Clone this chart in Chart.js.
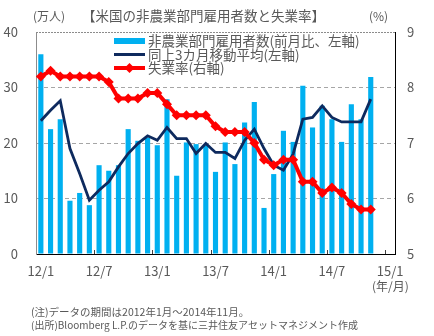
<!DOCTYPE html>
<html>
<head>
<meta charset="utf-8">
<script src="https://cdn.jsdelivr.net/npm/chart.js@4/dist/chart.umd.min.js"></script>
<style>
  html, body { margin: 0; padding: 0; background: #ffffff; }
  #wrap { width: 434px; height: 336px; }
</style>
</head>
<body>
<div id="wrap"><canvas id="c" width="434" height="336"></canvas></div>
<script>
// Monthly categories, 2012/1 .. 2015/1
const months = [
  '12/1','12/2','12/3','12/4','12/5','12/6','12/7','12/8','12/9','12/10','12/11','12/12',
  '13/1','13/2','13/3','13/4','13/5','13/6','13/7','13/8','13/9','13/10','13/11','13/12',
  '14/1','14/2','14/3','14/4','14/5','14/6','14/7','14/8','14/9','14/10','14/11','14/12',
  '15/1'
];

// Non-farm payrolls, change from previous month (10k persons)
const payrolls = [
  36.0, 22.5, 24.3, 9.6, 11.0, 8.8, 16.0, 15.0, 16.0, 22.5, 20.4, 21.0,
  19.6, 27.9, 14.1, 20.1, 19.8, 19.6, 14.8, 20.1, 16.2, 23.7, 27.4, 8.3,
  14.4, 22.2, 20.2, 30.3, 22.8, 26.7, 24.3, 20.2, 27.0, 24.3, 31.9
];

// 3-month moving average of payrolls (10k persons)
const payrollsAvg3 = [
  24.0, 25.9, 27.6, 19.0, 14.5, 9.7, 11.5, 13.0, 15.7, 18.1, 19.9, 21.3,
  20.5, 22.8, 20.8, 20.8, 18.1, 19.9, 18.3, 18.3, 17.2, 20.5, 22.5, 19.0,
  16.0, 15.1, 18.0, 24.3, 24.6, 26.7, 24.6, 23.8, 23.8, 23.8, 27.9
];

// Unemployment rate (%)
const unemployment = [
  8.2, 8.3, 8.2, 8.2, 8.2, 8.2, 8.2, 8.1, 7.8, 7.8, 7.8, 7.9,
  7.9, 7.7, 7.5, 7.5, 7.5, 7.5, 7.3, 7.2, 7.2, 7.2, 7.0, 6.7,
  6.6, 6.7, 6.7, 6.3, 6.3, 6.1, 6.2, 6.1, 5.9, 5.8, 5.8
];

const leftTicks = [0, 10, 20, 30, 40];
const rightTicks = [5, 6, 7, 8, 9];

const seriesNames = [
  '非農業部門雇用者数(前月比、左軸)',
  '同上3カ月移動平均(左軸)',
  '失業率(右軸)'
];

const TEXT = '#595959';
const FONT = '"Noto Sans CJK JP", "Noto Sans", sans-serif';
const BLUE = '#00B0F0';
const NAVY = '#0E2A5E';
const RED = '#FF0000';

// Page texts: headline, unit labels, legend and notes
const decorations = {
  id: 'decorations',
  beforeDraw(chart) {
    const ctx = chart.ctx;
    ctx.save();
    ctx.fillStyle = '#ffffff';
    ctx.fillRect(0, 0, chart.width, chart.height);
    ctx.restore();
  },
  afterDatasetsDraw(chart) {
    const ctx = chart.ctx;
    const a = chart.chartArea;
    const xs = chart.scales.x;
    ctx.save();
    // top frame line
    ctx.strokeStyle = '#8c8c8c';
    ctx.lineWidth = 1;
    ctx.setLineDash([2, 1]);
    ctx.beginPath();
    ctx.moveTo(a.left, a.top + 0.5);
    ctx.lineTo(a.right, a.top + 0.5);
    ctx.stroke();
    ctx.setLineDash([]);
    // half-year tick marks along the bottom edge
    ctx.strokeStyle = '#404040';
    for (let i = 6; i < months.length; i += 6) {
      const x = Math.round((xs.getPixelForValue(i - 1) + xs.getPixelForValue(i)) / 2) + 0.5;
      ctx.beginPath();
      ctx.moveTo(x, a.bottom);
      ctx.lineTo(x, a.bottom - 4);
      ctx.stroke();
    }
    ctx.restore();
  },
  afterDraw(chart) {
    const ctx = chart.ctx;
    ctx.save();
    ctx.fillStyle = TEXT;
    ctx.textBaseline = 'middle';

    ctx.font = '12px ' + FONT;
    ctx.textAlign = 'left';
    ctx.fillText('(万人)', 33, 16);
    ctx.font = '13.5px ' + FONT;
    ctx.fillText('【米国の非農業部門雇用者数と失業率】', 82, 16);
    ctx.font = '12px ' + FONT;
    ctx.fillText('(%)', 369, 16);
    ctx.fillText('(年/月)', 372, 286);

    // legend
    const lx = 114, lw = 31, tx = 148;
    const rows = [41, 54.5, 68];
    ctx.fillStyle = BLUE;
    ctx.fillRect(lx, rows[0] - 3, lw, 6);
    ctx.strokeStyle = NAVY;
    ctx.lineWidth = 3;
    ctx.beginPath();
    ctx.moveTo(lx, rows[1]);
    ctx.lineTo(lx + lw, rows[1]);
    ctx.stroke();
    ctx.strokeStyle = RED;
    ctx.lineWidth = 4;
    ctx.beginPath();
    ctx.moveTo(lx, rows[2]);
    ctx.lineTo(lx + lw, rows[2]);
    ctx.stroke();
    ctx.fillStyle = RED;
    const mx = lx + lw / 2, my = rows[2], r = 5;
    ctx.beginPath();
    ctx.moveTo(mx, my - r);
    ctx.lineTo(mx + r, my);
    ctx.lineTo(mx, my + r);
    ctx.lineTo(mx - r, my);
    ctx.closePath();
    ctx.fill();

    ctx.fillStyle = TEXT;
    ctx.font = '13.5px ' + FONT;
    seriesNames.forEach((t, i) => ctx.fillText(t, tx, rows[i]));

    // notes
    ctx.font = '10.5px ' + FONT;
    ctx.fillText('(注)データの期間は2012年1月～2014年11月。', 31, 312);
    ctx.font = '10px ' + FONT;
    ctx.fillText('(出所)Bloomberg L.P.のデータを基に三井住友アセットマネジメント作成', 31, 325);
    ctx.restore();
  }
};

new Chart(document.getElementById('c'), {
  data: {
    labels: months,
    datasets: [
      {
        type: 'line',
        label: seriesNames[2],
        data: unemployment,
        yAxisID: 'y1',
        borderColor: RED,
        backgroundColor: RED,
        borderWidth: 4,
        pointStyle: 'rectRot',
        pointRadius: 5,
        pointBorderWidth: 0,
        pointBackgroundColor: RED,
        tension: 0,
        order: 0
      },
      {
        type: 'line',
        label: seriesNames[1],
        data: payrollsAvg3,
        yAxisID: 'y',
        borderColor: NAVY,
        borderWidth: 2.8,
        pointRadius: 0,
        tension: 0,
        order: 1
      },
      {
        type: 'bar',
        label: seriesNames[0],
        data: payrolls,
        yAxisID: 'y',
        backgroundColor: BLUE,
        borderWidth: 0,
        categoryPercentage: 1,
        barPercentage: 0.53,
        order: 2
      }
    ]
  },
  options: {
    responsive: false,
    animation: false,
    devicePixelRatio: 1,
    layout: { padding: { top: 32, left: 0, right: 0, bottom: 0 } },
    plugins: {
      legend: { display: false },
      tooltip: { enabled: false },
      title: { display: false }
    },
    scales: {
      x: {
        type: 'category',
        offset: true,
        grid: { display: false, drawTicks: false },
        border: { display: true, color: '#000000', width: 1 },
        ticks: {
          autoSkip: false,
          maxRotation: 0,
          padding: 9,
          color: TEXT,
          font: { family: FONT, size: 13 },
          callback: function (v, i) { return i % 6 === 0 ? months[i] : ''; }
        },
        afterFit: function (s) { s.height = 82; }
      },
      y: {
        position: 'left',
        min: 0,
        max: 40,
        afterBuildTicks: function (s) { s.ticks = leftTicks.map(v => ({ value: v })); },
        grid: {
          drawTicks: false,
          color: function (c) { return (c.tick && (c.tick.value === 0 || c.tick.value === 40)) ? 'rgba(0,0,0,0)' : '#a6a6a6'; },
          lineWidth: 1
        },
        border: { display: true, color: '#8c8c8c', width: 1, dash: [4, 3] },
        ticks: {
          padding: 18,
          color: TEXT,
          font: { family: FONT, size: 13 }
        },
        afterFit: function (s) { s.width = 36; }
      },
      y1: {
        position: 'right',
        min: 5,
        max: 9,
        afterBuildTicks: function (s) { s.ticks = rightTicks.map(v => ({ value: v })); },
        grid: { drawOnChartArea: false, drawTicks: false },
        border: { display: true, color: '#000000', width: 1 },
        ticks: {
          padding: 12,
          color: TEXT,
          font: { family: FONT, size: 13 }
        },
        afterFit: function (s) { s.width = 39; }
      }
    }
  },
  plugins: [decorations]
});
</script>
</body>
</html>
